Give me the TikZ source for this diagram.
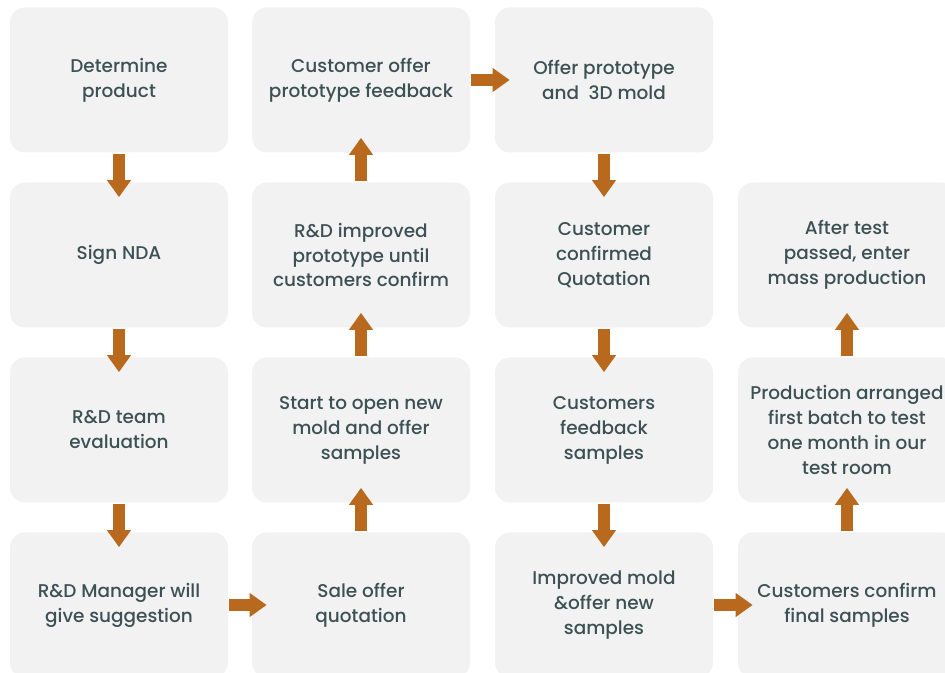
\documentclass[tikz,border=0pt]{standalone}
\usepackage{fontspec}
\setmainfont{Poppins}[UprightFont=* Medium]
\usepackage{tikz}
\usetikzlibrary{arrows.meta}
\definecolor{boxgray}{HTML}{F2F2F2}
\definecolor{txt}{HTML}{3D5155}
\definecolor{arr}{HTML}{B9691E}
\tikzstyle{step box} = [rectangle,rounded corners=0.3cm,fill=boxgray,minimum width=4.36cm,minimum height=2.9cm,align=center,text=txt,font=\fontsize{10.5}{14.2}\selectfont]
\tikzstyle{flow} = [arr,line width=0.24cm,-{Triangle[width=0.46cm,length=0.34cm]},shorten <=0.02cm,shorten >=-0.3cm]

\begin{document}
\begin{tikzpicture}
  \useasboundingbox (0,0) rectangle (18.9,-13.46);
  \clip (0,0) rectangle (18.9,-13.46);
  % column 1
  \node[step box] (det) at (2.38,-1.6) {Determine\\product};
  \node[step box] (nda) at (2.38,-5.1) {Sign NDA};
  \node[step box] (eval) at (2.38,-8.6) {R\&D team\\evaluation};
  \node[step box] (mgr) at (2.38,-12.1) {R\&D Manager will\\give suggestion};
  % column 2
  \node[step box] (sale) at (7.22,-12.1) {Sale offer\\quotation};
  \node[step box] (mold) at (7.22,-8.6) {Start to open new\\mold and offer\\samples};
  \node[step box] (impr) at (7.22,-5.1) {R\&D improved\\prototype until\\customers confirm};
  \node[step box] (fb) at (7.22,-1.6) {Customer offer\\prototype feedback};
  % column 3
  \node[step box] (proto) at (12.08,-1.6) {Offer prototype\\and~ 3D mold};
  \node[step box] (quot) at (12.08,-5.1) {Customer\\confirmed\\Quotation};
  \node[step box] (cfb) at (12.08,-8.6) {Customers\\feedback\\samples};
  \node[step box] (imold) at (12.08,-12.1) {Improved mold\\\&offer new\\samples};
  % column 4
  \node[step box] (final) at (16.94,-12.1) {Customers confirm\\final samples};
  \node[step box] (batch) at (16.94,-8.6) {Production arranged\\first batch to test\\one month in our\\test room};
  \node[step box] (mass) at (16.94,-5.1) {After test\\passed, enter\\mass production};

 \draw [flow] (det) -- (nda);
 \draw [flow] (nda) -- (eval);
 \draw [flow] (eval) -- (mgr);
 \draw [flow] (mgr) -- (sale);
 \draw [flow] (sale) -- (mold);
 \draw [flow] (mold) -- (impr);
 \draw [flow] (impr) -- (fb);
 \draw [flow] (fb) -- (proto);
 \draw [flow] (proto) -- (quot);
 \draw [flow] (quot) -- (cfb);
 \draw [flow] (cfb) -- (imold);
 \draw [flow] (imold) -- (final);
 \draw [flow] (final) -- (batch);
 \draw [flow] (batch) -- (mass);
\end{tikzpicture}
\end{document}
